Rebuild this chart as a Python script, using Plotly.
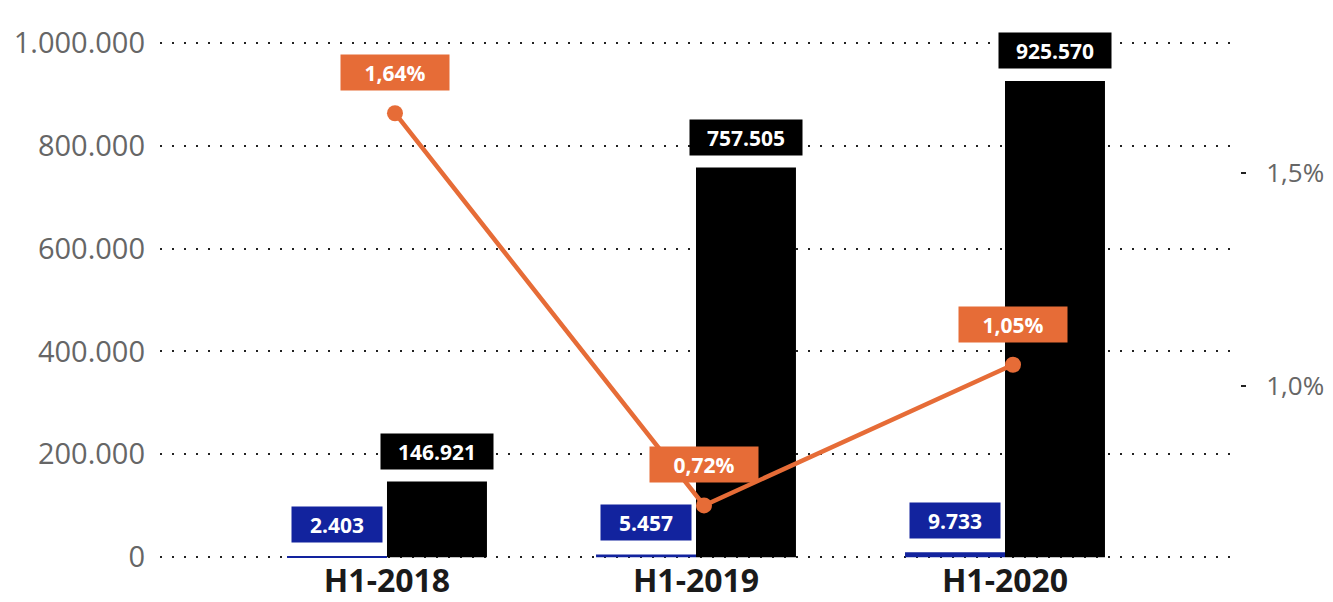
import plotly.graph_objects as go

categories = ["H1-2018", "H1-2019", "H1-2020"]
blue_values = [2403, 5457, 9733]
black_values = [146921, 757505, 925570]
pct_values = [1.64, 0.72, 1.05]
left_ticks = [0, 200000, 400000, 600000, 800000, 1000000]
right_ticks = [1.0, 1.5]

BLUE = "#12239E"
ORANGE = "#E66C37"
FONT = "Open Sans"


def fmt_int(v):
    return f"{v:,}".replace(",", ".")


def fmt_pct(v):
    return f"{v:.2f}".replace(".", ",") + "%"


fig = go.Figure()
fig.add_trace(go.Bar(x=categories, y=blue_values, marker_color=BLUE,
                     marker_line_width=0, name="a", xaxis="x", yaxis="y"))
fig.add_trace(go.Bar(x=categories, y=black_values, marker_color="#000000",
                     marker_line_width=0, name="b", xaxis="x", yaxis="y"))
fig.add_trace(go.Scatter(x=categories, y=pct_values, mode="lines+markers",
                         line=dict(color=ORANGE, width=4.5),
                         marker=dict(color=ORANGE, size=16),
                         xaxis="x2", yaxis="y2", name="c"))

annotations = []
for i, c in enumerate(categories):
    annotations.append(dict(
        x=c, y=blue_values[i], xref="x", yref="y", text=f"<b>{fmt_int(blue_values[i])}</b>",
        xshift=-50, yshift=13, yanchor="bottom", showarrow=False,
        bgcolor=BLUE, font=dict(color="white", size=21, family=FONT),
        borderpad=4, width=82, height=27))
    annotations.append(dict(
        x=c, y=black_values[i], xref="x", yref="y", text=f"<b>{fmt_int(black_values[i])}</b>",
        xshift=50, yshift=12, yanchor="bottom", showarrow=False,
        bgcolor="#000000", font=dict(color="white", size=21, family=FONT),
        borderpad=4, width=104, height=27))
    annotations.append(dict(
        x=c, y=pct_values[i], xref="x2", yref="y2", text=f"<b>{fmt_pct(pct_values[i])}</b>",
        yshift=22, yanchor="bottom", showarrow=False,
        bgcolor=ORANGE, font=dict(color="white", size=21, family=FONT),
        borderpad=4, width=100, height=27))

x_range = [-0.7346, 2.7605]
shift = 8 / 309

fig.update_layout(
    width=1325, height=594,
    margin=dict(l=152, r=93, t=33.2, b=43.2, autoexpand=False),
    paper_bgcolor="white", plot_bgcolor="white",
    barmode="group", bargap=0.353, bargroupgap=0,
    showlegend=False,
    separators=",.",
    font=dict(family=FONT),
    xaxis=dict(type="category", range=x_range, showgrid=False, zeroline=False,
               showline=False, ticks="", automargin=False,
               tickfont=dict(size=32, color="#1a1a1a", family=FONT),
               tickprefix="<b>", ticksuffix="</b>", ticklabelstandoff=0),
    xaxis2=dict(type="category", overlaying="x", range=[x_range[0] - shift, x_range[1] - shift],
                visible=False),
    yaxis=dict(range=[-3500, 1003500], tickvals=left_ticks,
               ticktext=[fmt_int(v) for v in left_ticks],
               showgrid=True, gridcolor="#222222", gridwidth=2, griddash="2px,10px",
               zeroline=False, showline=False, ticks="", automargin=False,
               tickfont=dict(size=29, color="#666666", family=FONT),
               ticklabelstandoff=14),
    yaxis2=dict(overlaying="y", side="right", range=[0.5944, 1.8094],
                tickvals=right_ticks, ticktext=[f"{v:.1f}".replace(".", ",") + "%" for v in right_ticks],
                showgrid=False, zeroline=False, showline=False, automargin=False,
                ticks="outside", ticklen=5, tickwidth=2, tickcolor="#222222",
                tickfont=dict(size=26, color="#666666", family=FONT),
                ticklabelstandoff=15),
    annotations=annotations,
)

fig.write_html("out.html")
